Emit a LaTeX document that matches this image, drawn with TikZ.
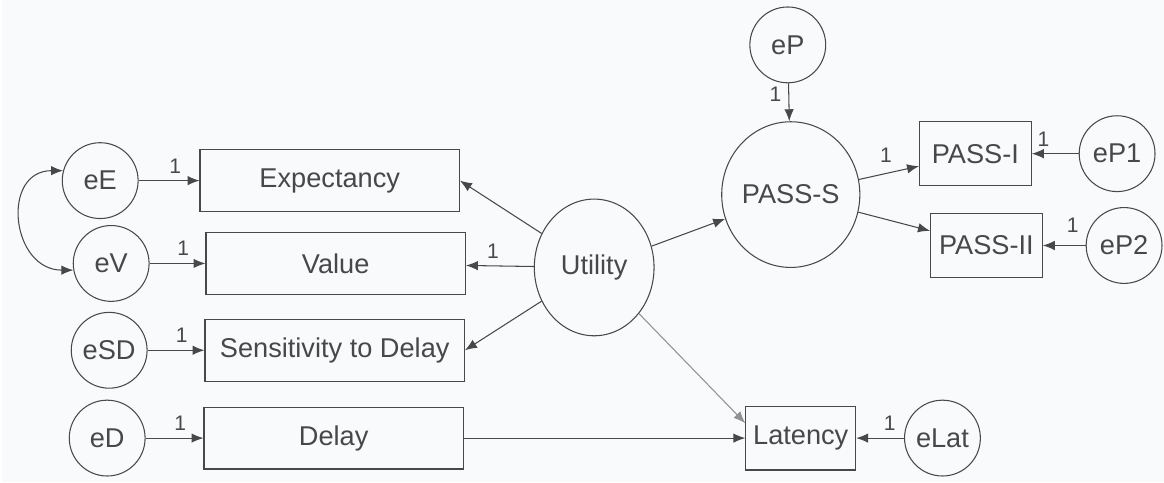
\documentclass[tikz,border=0pt]{standalone}
\usepackage{fontspec}
\setmainfont{Liberation Sans}
\usetikzlibrary{shapes.geometric,arrows.meta}
\definecolor{paper}{RGB}{248,250,251}
\definecolor{ink}{RGB}{70,72,74}

\begin{document}
\begin{tikzpicture}[x=0.02cm,y=0.02cm,font=\fontsize{15.5}{18}\selectfont,text=ink,line width=0.6pt,
    err/.style={draw=ink,circle,minimum size=1.52cm,inner sep=0pt},
    obs/.style={draw=ink,rectangle,minimum width=5.2cm,minimum height=1.24cm,inner sep=0pt},
    small/.style={draw=ink,rectangle,minimum width=2.24cm,minimum height=1.28cm,inner sep=0pt},
    lat/.style={draw=ink,ellipse,inner sep=0pt},
    arr/.style={draw=ink,-{Latex[length=2.4mm,width=1.9mm]}},
    one/.style={font=\fontsize{12}{14}\selectfont,inner sep=1pt}]
    \fill[paper] (0,0) rectangle (1164,483);
    % left block
    \node[err] (eE) at (98,302) {eE};
    \node[err] (eV) at (109,219) {eV};
    \node[err] (eSD) at (107,132) {eSD};
    \node[err] (eD) at (105,44) {eD};
    \node[obs] (Exp) at (328,302) {Expectancy};
    \node[obs] (Val) at (334,219) {Value};
    \node[obs] (SD) at (333,132) {Sensitivity to Delay};
    \node[obs] (Del) at (332,44) {Delay};
    % latent part
    \node[lat,minimum width=2.4cm,minimum height=2.74cm] (Ut) at (593,215) {Utility};
    \node[lat,minimum width=2.48cm,minimum height=2.92cm] (PS) at (790,288) {PASS-S};
    \node[err] (eP) at (787,438) {eP};
    \node[small] (PI) at (975,329) {PASS-I};
    \node[small] (PII) at (986,237) {PASS-II};
    \node[err] (eP1) at (1117,329) {eP1};
    \node[err] (eP2) at (1124,237) {eP2};
    \node[small,minimum width=2.2cm] (Lat) at (800,44) {Latency};
    \node[err] (eLat) at (942,44) {eLat};
    \draw[arr] (eE) -- node[one,above=3pt,pos=0.6] {1} (Exp);
    \draw[arr] (eV) -- node[one,above=3pt,pos=0.6] {1} (Val);
    \draw[arr] (eSD) -- node[one,above=3pt,pos=0.6] {1} (SD);
    \draw[arr] (eD) -- node[one,above=3pt,pos=0.6] {1} (Del);
    \draw[draw=ink,{Latex[length=2.4mm,width=1.9mm]}-{Latex[length=2.4mm,width=1.9mm]}] (eE.165) to[out=180,in=180,looseness=1.6] (eV.190);
    \draw[arr] (Ut) -- (Exp.east);
    \draw[arr] (Ut) -- node[one,above=3pt,pos=0.6] {1} (Val);
    \draw[arr] (Ut) -- (SD.east);
    \draw[arr,draw=ink!60] (Ut) -- (Lat.165);
    \draw[arr] (Del) -- (Lat);
    \draw[arr] (Ut) -- (PS);
    \draw[arr] (eP) -- node[one,left=3pt,pos=0.3] {1} (PS);
    \draw[arr] (PS) -- node[one,above=5pt,pos=0.45] {1} (PI);
    \draw[arr] (PS) -- (PII);
    \draw[arr] (eP1) -- node[one,above=3pt,pos=0.75] {1} (PI);
    \draw[arr] (eP2) -- node[one,above=6pt,pos=0.3] {1} (PII);
    \draw[arr] (eLat) -- node[one,above=3pt,pos=0.3] {1} (Lat);
\end{tikzpicture}
\end{document}
